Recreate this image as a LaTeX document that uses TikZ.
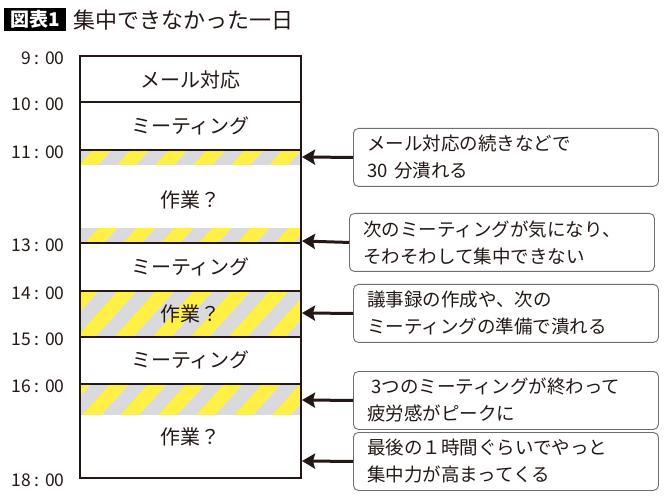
\documentclass[tikz,border=0pt]{standalone}
\usepackage{fontspec}
\setmainfont{Noto Sans CJK JP}
\usetikzlibrary{positioning, arrows.meta}

\definecolor{inkdark}{RGB}{35,24,21}
\definecolor{hatchyellow}{RGB}{255,240,70}
\definecolor{hatchgray}{RGB}{217,217,222}
\definecolor{notegray}{RGB}{110,110,110}

\begin{document}
\begin{tikzpicture}[x=1pt, y=-1pt,
    timebar/.style={draw=inkdark, line width=1.5pt},
    slot/.style={font=\fontsize{20}{24}\selectfont, text=inkdark},
    clock/.style={anchor=east, font=\fontsize{17.5}{20}\selectfont, text=inkdark},
    note/.style={draw=notegray, line width=0.9pt, rounded corners=5pt, anchor=north west,
        minimum width=305pt, minimum height=58pt, text width=277pt, inner xsep=14pt,
        align=left, font=\fontsize{18.5}{27}\selectfont, text=inkdark},
    pointer/.style={draw=inkdark, line width=3pt, -{Stealth[length=13pt, width=15pt, inset=2pt]}}]

    \useasboundingbox (0,0) rectangle (670,497);

    % title
    \node[fill=black, text=white, font=\fontsize{19}{20}\selectfont\bfseries,
        minimum width=62pt, minimum height=23pt, inner sep=1pt] (tag) at (35,19.5) {図表1};
    \node[anchor=west, font=\fontsize{22}{24}\selectfont, text=inkdark] (title) at (70,20) {集中できなかった一日};

    % striped (lost) time
    \foreach \ya/\yb in {150/165, 228/243, 291/337, 384/415} {
        \begin{scope}
            \clip (80,\ya) rectangle (301,\yb);
            \fill[hatchgray] (80,\ya) rectangle (301,\yb);
            \foreach \k in {5,...,20}
                \fill[hatchyellow] ({38*\k-0.9*\yb},\yb) -- ++(19,0)
                    -- ({38*\k+19-0.9*\ya},\ya) -- ({38*\k-0.9*\ya},\ya) -- cycle;
        \end{scope}
    }

    % the day column
    \draw[timebar] (80,56) rectangle (301,478);
    \foreach \y in {102,150,243,291,337,384}
        \draw[timebar] (80,\y) -- (301,\y);

    \foreach \t/\y in {9/56, 10/102, 11/150, 13/243, 14/291, 15/337, 16/384, 18/478}
        \node[clock] (t\t) at (68,\y+2) {\t{} : 00};

    \node[slot] (mail)  at (190.5,80)  {メール対応};
    \node[slot] (meet1) at (190.5,126) {ミーティング};
    \node[slot] (work1) at (190.5,200) {作業？};
    \node[slot] (meet2) at (190.5,267) {ミーティング};
    \node[slot] (work2) at (190.5,314) {作業？};
    \node[slot] (meet3) at (190.5,360) {ミーティング};
    \node[slot] (work3) at (190.5,437) {作業？};

    % notes
    \node[note] (note1) at (353,128) {メール対応の続きなどで\\30 分潰れる};
    \node[note] (note2) at (349,213) {次のミーティングが気になり、\\そわそわして集中できない};
    \node[note] (note3) at (353,284) {議事録の作成や、次の\\ミーティングの準備で潰れる};
    \node[note] (note4) at (353,371) {\hspace{4pt}3つのミーティングが終わって\\疲労感がピークに};
    \node[note] (note5) at (353,432) {最後の１時間ぐらいでやっと\\集中力が高まってくる};

    \coordinate (hit1) at (302,157);
    \coordinate (hit2) at (302,241);
    \coordinate (hit3) at (302,313);
    \coordinate (hit4) at (302,400);
    \coordinate (hit5) at (302,461);

    \path
        (note1.west) edge[pointer] (hit1)
        (note2.west) edge[pointer] (hit2)
        (note3.west) edge[pointer] (hit3)
        (note4.west) edge[pointer] (hit4)
        (note5.west) edge[pointer] (hit5);

\end{tikzpicture}
\end{document}
